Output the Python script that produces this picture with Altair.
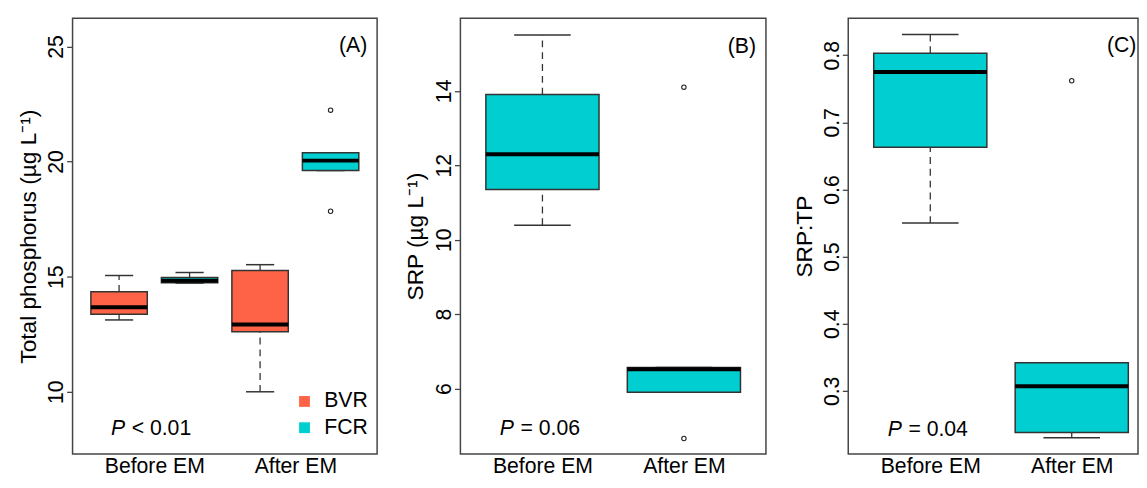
import altair as alt
import pandas as pd

FONT = "Liberation Sans"
FS = 21.5
TFS = 23

lake_names = ["BVR", "FCR"]
lake_colors = ["#FF6347", "#00CED1"]
x_labels = ["Before EM", "After EM"]

# Panel A: Total phosphorus (4 boxes: BVR/FCR before, BVR/FCR after)
a_pos = [1, 2, 3, 4]
a_lake = ["BVR", "FCR", "BVR", "FCR"]
a_lo = [13.12, 14.72, 10.0, 19.61]
a_q1 = [13.37, 14.73, 12.61, 19.61]
a_med = [13.67, 14.82, 12.92, 20.04]
a_q3 = [14.34, 14.96, 15.27, 20.38]
a_hi = [15.05, 15.18, 15.52, 20.38]
a_out_pos = [4, 4]
a_out_val = [22.23, 17.84]

# Panel B: SRP
b_pos = [1, 2]
b_lake = ["FCR", "FCR"]
b_lo = [10.39, 5.90]
b_q1 = [11.35, 5.90]
b_med = [12.30, 6.52]
b_q3 = [13.90, 6.57]
b_hi = [15.50, 6.57]
b_out_pos = [2, 2]
b_out_val = [14.10, 4.66]

# Panel C: SRP:TP
c_pos = [1, 2]
c_lake = ["FCR", "FCR"]
c_lo = [0.550, 0.230]
c_q1 = [0.663, 0.238]
c_med = [0.775, 0.307]
c_q3 = [0.803, 0.342]
c_hi = [0.831, 0.342]
c_out_pos = [2]
c_out_val = [0.762]

color_scale = alt.Scale(domain=lake_names, range=lake_colors)

H = 442


def panel(pos, lake, lo, q1, med, q3, hi, out_pos, out_val,
          xdom, ydom, yticks, yfmt, ytitle, tag, tag_xy, ptxt, p_xy,
          label_pos, width, title_x, legend=None):
    df = pd.DataFrame(dict(pos=pos, lake=lake, lo=lo, q1=q1, med=med, q3=q3, hi=hi))
    df["bl"] = df["pos"] - 0.4
    df["br"] = df["pos"] + 0.4
    df["cl"] = df["pos"] - 0.2
    df["cr"] = df["pos"] + 0.2
    dout = pd.DataFrame(dict(pos=out_pos, val=out_val))

    xs = alt.Scale(domain=xdom, nice=False, zero=False)
    ys = alt.Scale(domain=ydom, nice=False, zero=False)
    lab_expr = "datum.value < %f ? '%s' : '%s'" % ((label_pos[0] + label_pos[1]) / 2, x_labels[0], x_labels[1])
    xaxis = alt.Axis(values=label_pos, labelExpr=lab_expr, ticks=False, domain=False, grid=False,
                     labelPadding=2, labelFontSize=FS, labelFont=FONT, labelColor="#000",
                     labelFlush=False, labelOverlap=False, title=None)
    yaxis = alt.Axis(values=yticks, format=yfmt, tickSize=6, tickColor="#444", tickWidth=1.3,
                     domain=False, grid=False, labelAngle=270, labelAlign="center",
                     labelBaseline="alphabetic", labelPadding=4, labelFontSize=FS,
                     labelFont=FONT, labelColor="#000", title=ytitle, titleFont=FONT,
                     titleFontSize=TFS, titleFontWeight="normal", titleColor="#000",
                     titleAngle=270, titleAlign="center", titleBaseline="middle",
                     titleX=title_x, titleY=H / 2, labelFlush=False, labelOverlap=False)

    def X(f):
        return alt.X(f, scale=xs, axis=xaxis)

    def Y(f):
        return alt.Y(f, scale=ys, axis=yaxis)

    base = alt.Chart(df)
    whisk_hi = base.mark_rule(strokeDash=[7, 5], color="#333", strokeWidth=1.3).encode(
        x=X("pos:Q"), y=Y("q3:Q"), y2="hi:Q")
    whisk_lo = base.mark_rule(strokeDash=[7, 5], color="#333", strokeWidth=1.3).encode(
        x=X("pos:Q"), y=Y("lo:Q"), y2="q1:Q")
    cap_hi = base.mark_rule(color="#333", strokeWidth=1.5).encode(
        x=X("cl:Q"), x2="cr:Q", y=Y("hi:Q"))
    cap_lo = base.mark_rule(color="#333", strokeWidth=1.5).encode(
        x=X("cl:Q"), x2="cr:Q", y=Y("lo:Q"))
    box = base.mark_rect(stroke="#333", strokeWidth=1.5).encode(
        x=X("bl:Q"), x2="br:Q", y=Y("q1:Q"), y2="q3:Q",
        fill=alt.Fill("lake:N", scale=color_scale, legend=None))
    median = base.mark_rule(color="#000", strokeWidth=4).encode(
        x=X("bl:Q"), x2="br:Q", y=Y("med:Q"))
    outl = alt.Chart(dout).mark_point(shape="circle", size=20, filled=False,
                                      color="#222", strokeWidth=1.1, opacity=1).encode(
        x=X("pos:Q"), y=Y("val:Q"))

    dtag = pd.DataFrame(dict(x=[tag_xy[0]], y=[tag_xy[1]], t=[tag]))
    tagm = alt.Chart(dtag).mark_text(align="right", baseline="middle", font=FONT,
                                     fontSize=FS, color="#000").encode(
        x=X("x:Q"), y=Y("y:Q"), text="t:N")

    dp = pd.DataFrame(dict(x=[p_xy[0]], y=[p_xy[1]], p=["P"], t=[ptxt]))
    pm = alt.Chart(dp).mark_text(align="left", baseline="middle", font=FONT, fontSize=FS,
                                 fontStyle="italic", color="#000").encode(
        x=X("x:Q"), y=Y("y:Q"), text="p:N")
    pt = alt.Chart(dp).mark_text(align="left", baseline="middle", font=FONT, fontSize=FS,
                                 color="#000", dx=21).encode(
        x=X("x:Q"), y=Y("y:Q"), text="t:N")

    layers = [whisk_hi, whisk_lo, cap_hi, cap_lo, box, median, outl, tagm, pm, pt]

    if legend is not None:
        lx, tx, ly = legend
        dl = pd.DataFrame(dict(x=[lx] * 2, tx=[tx] * 2, y=ly, lake=lake_names))
        sq = alt.Chart(dl).mark_point(shape="square", filled=True, size=121, opacity=1).encode(
            x=X("x:Q"), y=Y("y:Q"),
            color=alt.Color("lake:N", scale=color_scale, legend=None))
        lt = alt.Chart(dl).mark_text(align="left", baseline="middle", font=FONT, fontSize=FS,
                                     color="#000").encode(
            x=X("tx:Q"), y=Y("y:Q"), text="lake:N")
        layers += [sq, lt]

    return alt.layer(*layers).properties(width=width, height=H)


WC = 294
c_xmax = 0.42 + 2.16 * WC / 310
pA = panel(a_pos, a_lake, a_lo, a_q1, a_med, a_q3, a_hi, a_out_pos, a_out_val,
           [0.34, 4.66], [7.3, 26.22], [10, 15, 20, 25], "d",
           "Total phosphorus  (\u00b5g L\u207b\u00b9)", "(A)", (4.52, 25.0),
           "< 0.01", (0.885, 8.36), [1.5, 3.5], 309, -45,
           legend=(3.63, 3.91, [9.58, 8.44]))
pB = panel(b_pos, b_lake, b_lo, b_q1, b_med, b_q3, b_hi, b_out_pos, b_out_val,
           [0.42, 2.58], [4.245, 15.95], [6, 8, 10, 12, 14], "d",
           "SRP  (\u00b5g L\u207b\u00b9)", "(B)", (2.51, 15.19),
           "= 0.06", (0.699, 4.90), [1, 2], 310, -45)
pC = panel(c_pos, c_lake, c_lo, c_q1, c_med, c_q3, c_hi, c_out_pos, c_out_val,
           [0.42, c_xmax], [0.206, 0.855], [0.3, 0.4, 0.5, 0.6, 0.7, 0.8], ".1f",
           "SRP:TP", "(C)", (c_xmax - 0.012, 0.813),
           "= 0.04", (0.699, 0.242), [1, 2], WC, -44)

chart = alt.hconcat(pA, pB, pC, spacing=26.5).properties(
    padding={"left": 8.5, "top": 6, "right": 0, "bottom": 0},
    background="white"
).configure_view(stroke="#444", strokeWidth=1.5)

chart.save("out.html", embed_options={"renderer": "svg", "actions": False})
